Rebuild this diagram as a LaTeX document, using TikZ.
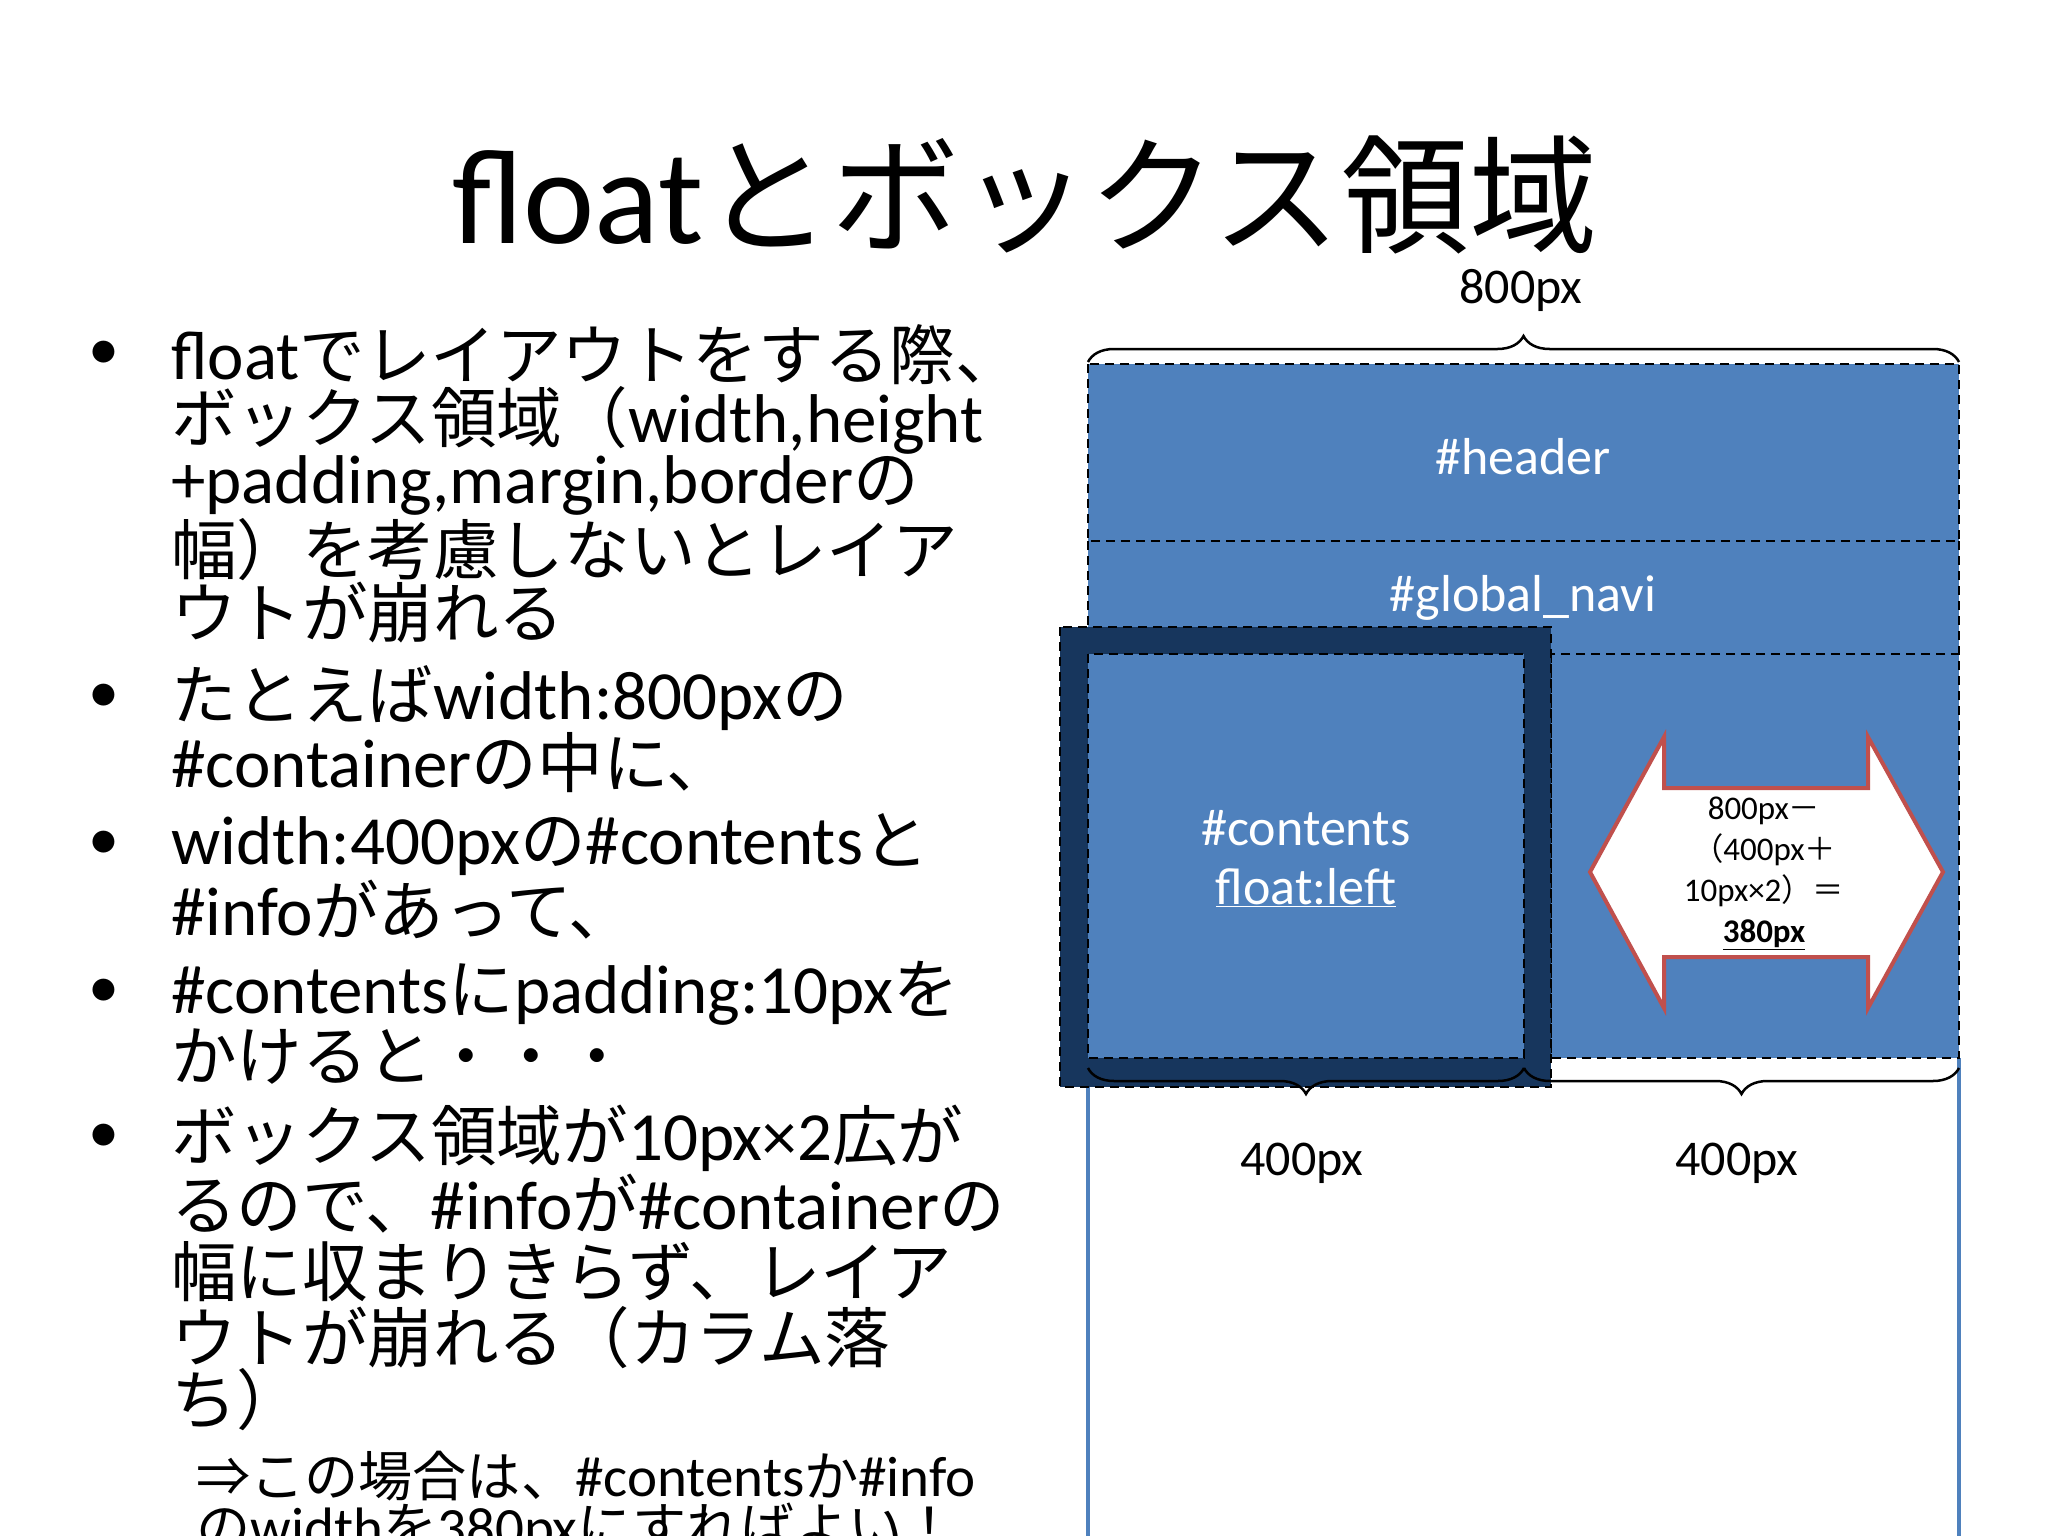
\documentclass[tikz,border=0pt]{standalone}
\usepackage{fontspec}
\setmainfont{Carlito}
\newfontfamily\jpf{Noto Sans CJK JP}[Scale=0.95]
\newcommand{\J}[1]{{\jpf #1}}
\usetikzlibrary{decorations.pathreplacing}
\definecolor{boxblue}{HTML}{4F81BD}
\definecolor{darkblue}{HTML}{17365D}
\definecolor{arrred}{HTML}{C0504D}
\tikzset{
  body/.style={anchor=west,inner sep=0pt,font=\fontsize{69}{62}\selectfont},
  bul/.style={inner sep=0pt,font=\fontsize{62}{62}\selectfont},
  lbl/.style={text=white,font=\fontsize{52}{56}\selectfont},
  dim/.style={font=\fontsize{50}{54}\selectfont},
  dsh/.style={line width=2pt,dash pattern=on 9pt off 6pt},
  brc/.style={draw,line width=2.5pt,decorate,decoration={brace,amplitude=26pt}}
}
\begin{document}
\begin{tikzpicture}[x=1pt,y=-1pt]
\useasboundingbox[fill=white] (0,0) rectangle (2048,1536);
% title
\node (title) at (1025,195) {\fontsize{135}{140}\selectfont float\J{とボックス領域}};
% bullets
\foreach \yy/\nm in {355/b1,698/b2,845/b3,993/b4,1138/b5}{\node[bul] (\nm) at (104,\yy) {•};}
\node[body] (l1) at (171,355) {float\J{でレイアウトをする際、}};
\node[body] (l2) at (171,420) {\J{ボックス領域（}width,height};
\node[body] (l3) at (171,485) {+padding,margin,border\J{の}};
\node[body] (l4) at (171,550) {\J{幅）を考慮しないとレイア}};
\node[body] (l5) at (171,613) {\J{ウトが崩れる}};
\node[body] (l6) at (171,698) {\J{たとえば}width:800px\J{の}};
\node[body] (l7) at (171,763) {\#container\J{の中に、}};
\node[body] (l8) at (171,845) {width:400px\J{の}\#contents\J{と}};
\node[body] (l9) at (171,910) {\#info\J{があって、}};
\node[body] (l10) at (171,993) {\#contents\J{に}padding:10px\J{を}};
\node[body] (l11) at (171,1057) {\J{かけると・・・}};
\node[body] (l12) at (171,1138) {\J{ボックス領域が}10px×2\J{広が}};
\node[body] (l13) at (171,1204) {\J{るので、}\#info\J{が}\#container\J{の}};
\node[body] (l14) at (171,1272) {\J{幅に収まりきらず、レイア}};
\node[body] (l15) at (171,1338) {\J{ウトが崩れる（カラム落}};
\node[body] (l16) at (171,1400) {\J{ち）}};
\node[body,font=\fontsize{57}{57}\selectfont] (l17) at (196,1476) {\J{⇒この場合は、}\#contents\J{か}\#info};
\node[body,font=\fontsize{57}{57}\selectfont] (l18) at (196,1530) {\J{の}width\J{を}380px\J{にすればよい！}};
% container side lines
\draw[boxblue,line width=4pt] (1088,1058) -- (1088,1536);
\draw[boxblue,line width=4pt] (1959,1058) -- (1959,1536);
% header + nav
\fill[boxblue] (1088,364) rectangle (1959,654);
\draw[dsh] (1088,364) rectangle (1959,541);
\draw[dsh] (1088,541) -- (1088,654) (1959,541) -- (1959,654);
\node[lbl] (header) at (1523,457) {\#header};
\node[lbl] (navi) at (1523,598) {\#global\_navi};
% info
\fill[boxblue] (1551,654) rectangle (1959,1058);
\draw[dsh] (1551,654) rectangle (1959,1058);
% contents
\fill[darkblue] (1060,627) rectangle (1551,1087);
\draw[dsh] (1060,627) rectangle (1551,1087);
\fill[boxblue] (1088,654) rectangle (1524,1058);
\draw[dsh] (1088,654) rectangle (1524,1058);
\node[lbl] (cont) at (1306,828) {\#contents};
\node[lbl] (fl) at (1306,888) {\underline{float:left}};
% braces
\coordinate (tl) at (1088,362); \coordinate (tr) at (1959,362);
\draw[brc] (tl) -- (tr);
\node[dim] (w800) at (1521,290) {800px};
\coordinate (bl) at (1088,1068); \coordinate (bm) at (1524,1068); \coordinate (br) at (1959,1068);
\draw[brc] (bm) -- (bl);
\draw[brc] (br) -- (bm);
\node[dim] (w400a) at (1302,1163) {400px};
\node[dim] (w400b) at (1737,1163) {400px};
% arrow
\draw[arrred,line width=4pt,fill=white,line join=miter] (1590,872) -- (1664,737) -- (1664,788) -- (1868,788) -- (1868,737) -- (1943,872) -- (1868,1008) -- (1868,957) -- (1664,957) -- (1664,1008) -- cycle;
\node[font=\fontsize{33}{41}\selectfont,align=center] (calc) at (1764,873) {800px\J{－}\\\J{（}400px\J{＋}\\10px×2\J{）＝}\\\textbf{\underline{380px}}};
\end{tikzpicture}
\end{document}
